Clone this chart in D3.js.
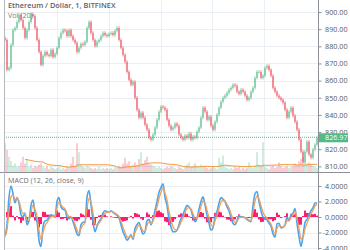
<!DOCTYPE html>
<html>
<head>
<meta charset="utf-8">
<script src="https://d3js.org/d3.v7.min.js"></script>
<style>
  html, body { margin: 0; padding: 0; background: #fff; }
  svg { display: block; font-family: "Open Sans", "DejaVu Sans", sans-serif; }
</style>
</head>
<body>
<div id="chart"></div>
<script>
////////////////////////////////////////////////////////////////////////////////
// Data (one sample every 2px)

var closes = [
  883.7, 866.3, 867.4, 880.8, 889.5, 890.7, 894.2, 898.3, 895.3, 890.7,
  884.9, 889.5, 894.2, 898.8, 897.7, 890.7, 883.7, 876.7, 869.2, 874.4,
  876.7, 875.0, 874.4, 877.9, 873.8, 875.6, 879.1, 884.9, 887.8, 889.5,
  889.0, 886.0, 889.5, 886.0, 883.7, 882.0, 876.7, 879.1, 881.4, 880.8,
  882.6, 890.7, 894.2, 887.8, 883.7, 880.2, 882.6, 883.7, 886.0, 887.8,
  886.6, 886.0, 887.2, 887.8, 886.6, 889.0, 890.7, 883.7, 879.1, 875.0,
  870.9, 865.1, 860.5, 857.6, 859.3, 850.0, 843.0, 838.4, 841.3, 838.4,
  834.3, 831.4, 826.7, 825.6, 828.5, 832.6, 837.2, 841.9, 844.8, 844.2,
  843.0, 837.2, 833.7, 831.4, 832.6, 834.9, 833.7, 828.5, 826.7, 825.6,
  827.9, 826.7, 829.1, 825.6, 827.3, 826.7, 830.2, 832.6, 838.4, 844.2,
  841.9, 837.2, 839.0, 833.7, 831.4, 836.0, 840.1, 844.2, 847.7, 850.0,
  851.2, 852.9, 854.7, 855.8, 857.6, 857.0, 853.5, 852.3, 854.7, 853.5,
  851.2, 848.8, 850.0, 853.5, 855.8, 861.6, 865.1, 865.1, 861.6, 862.8,
  867.4, 868.6, 866.3, 862.8, 855.8, 853.5, 851.2, 850.0, 848.8, 847.1,
  843.0, 838.4, 841.9, 844.2, 839.5, 836.0, 831.4, 825.6, 818.6, 812.8,
  818.6, 824.4, 816.9, 815.1, 819.8, 822.7, 826.97
];

var volumes = [
  26, 20, 14, 10, 6, 8, 5, 6, 9, 14,
  8, 12, 5, 7, 4, 6, 5, 7, 8, 5,
  4, 6, 3, 5, 4, 3, 4, 5, 3, 4,
  3, 5, 4, 8, 14, 6, 26, 18, 7, 5,
  4, 6, 5, 4, 3, 4, 3, 5, 3, 4,
  3, 4, 3, 4, 3, 5, 4, 6, 5, 8,
  13, 8, 10, 6, 7, 9, 6, 12, 18, 8,
  11, 14, 8, 7, 6, 5, 4, 5, 4, 3,
  4, 5, 4, 6, 5, 4, 3, 5, 4, 3,
  6, 7, 9, 5, 6, 8, 6, 5, 7, 6,
  5, 4, 3, 4, 5, 4, 3, 13, 9, 15,
  5, 4, 3, 4, 3, 5, 4, 5, 3, 4,
  3, 4, 9, 5, 4, 5, 18, 7, 6, 27,
  5, 4, 3, 5, 6, 4, 5, 9, 6, 4,
  5, 6, 4, 5, 6, 8, 7, 10, 12, 14,
  10, 8, 9, 7, 6, 5, 4
];

var macd_vals = [
  -2.5, -1.0, 2.5, 4.0, 3.0, 1.8, 2.5, 1.8, 0.3, 0.0,
  0.5, -1.0, -0.5, 1.5, 2.2, 0.5, -0.5, -3.0, -3.8, -1.3,
  -0.5, -0.4, 0.0, 0.3, 0.2, 0.0, 2.0, 2.5, 1.3, 1.0,
  0.9, 0.0, -0.2, 0.0, -0.6, -1.4, -2.2, -2.4, -1.0, -0.7,
  -0.6, 2.5, 3.4, 1.6, -0.5, -1.9, -1.2, -0.6, -0.2, 0.5,
  0.8, 0.7, 0.6, 0.8, 0.6, 0.4, 0.2, -0.1, -1.0, -1.9,
  -2.5, -3.0, -2.7, -2.3, -2.9, -1.5, -1.0, -0.7, -1.5, -2.2,
  -1.9, -0.5, -0.3, -1.0, -0.3, 0.8, 2.0, 3.2, 3.8, 4.3,
  2.5, 1.5, -0.3, -1.3, -1.9, -1.9, -1.7, -1.0, -0.2, 0.3,
  1.0, 1.5, 1.3, 0.9, 0.0, -0.6, -0.2, 1.0, 2.0, 2.6,
  1.6, 0.2, -0.8, -1.7, -1.4, 0.0, 0.7, 1.8, 2.5, 2.3,
  2.0, 1.3, 0.8, -0.1, -0.8, -1.0, -0.5, 0.2, 0.0, 0.0,
  -0.1, -0.3, -0.5, -0.6, 1.5, 3.0, 3.3, 2.0, 0.8, 0.0,
  -0.2, -0.4, -0.8, -1.2, -2.2, -2.6, -0.9, -0.8, -1.4, -1.3,
  -1.0, 0.0, -0.5, 0.3, 0.5, 1.1, -0.8, -2.5, -3.8, -2.5,
  -0.7, -0.3, 0.3, 0.8, 1.2, 1.8, 1.8
];

var price_ticks = [900, 890, 880, 870, 860, 850, 840, 830, 820, 810];
var macd_ticks = [4, 2, 0, -2, -4];
var title_text = "Ethereum / Dollar, 1, BITFINEX";
var vol_text = "Vol (20)";
var macd_text = "MACD (12, 26, close, 9)";
var footer_text = "ETHUSD chart by TradingView";

////////////////////////////////////////////////////////////////////////////////
// Setup

var width = 350, height = 250;
var plot_left = 4, plot_right = 318, sep_y = 172.5;
var up_col = "#53b987", down_col = "#eb4d5c";

var n = closes.length;
var candles = closes.map(function(c, i) {
  var o = i == 0 ? c + 1.2 : closes[i - 1];
  return { i: i, o: o, c: c, h: Math.max(o, c) + 1.0, l: Math.min(o, c) - 1.0, v: volumes[i] };
});

// volume moving average (20), drawn once a few bars are in the window
var vol_ma = volumes.map(function(v, i) {
  var s = volumes.slice(Math.max(0, i - 19), i + 1);
  return { i: i, v: d3.mean(s) };
}).filter(function(d) { return d.i >= 10; });

// signal line: EMA of macd (9 one-minute candles, a few samples here)
var alpha = 2 / (2.5 + 1), sig = [];
macd_vals.forEach(function(m, i) { sig.push(i == 0 ? m : sig[i - 1] + alpha * (m - sig[i - 1])); });
var hist = macd_vals.map(function(m, i) { return m - sig[i]; });

var scale_X = d3.scaleBand().domain(d3.range(n)).range([plot_left, plot_right]);
var bw = scale_X.bandwidth();
function cx(i) { return scale_X(i) + bw / 2; }

var scale_P = d3.scaleLinear().domain([810, 900]).range([166.4, 12]);
var scale_V = d3.scaleLinear().domain([0, 28]).range([sep_y, 141]);
var scale_M = d3.scaleLinear().domain([-4, 4]).range([248, 186]);

var svg = d3.select("#chart").append("svg")
  .attr("width", width).attr("height", height);

var defs = svg.append("defs");
defs.append("clipPath").attr("id", "clip_top")
  .append("rect").attr("x", plot_left).attr("y", 0).attr("width", plot_right - plot_left).attr("height", sep_y);
defs.append("clipPath").attr("id", "clip_bot")
  .append("rect").attr("x", plot_left).attr("y", sep_y + 0.5).attr("width", plot_right - plot_left).attr("height", height - sep_y);

////////////////////////////////////////////////////////////////////////////////
// Grid

var grid = svg.append("g").attr("class", "grid");
var vgrid_x = [57, 109, 161, 212, 264];
vgrid_x.forEach(function(x) {
  grid.append("line").attr("x1", x + 0.5).attr("x2", x + 0.5).attr("y1", 0).attr("y2", height)
    .style("stroke", "#e9eff4").style("stroke-width", 1);
});
price_ticks.forEach(function(t) {
  grid.append("line").attr("x1", plot_left).attr("x2", plot_right)
    .attr("y1", Math.round(scale_P(t)) + 0.5).attr("y2", Math.round(scale_P(t)) + 0.5)
    .style("stroke", "#e9eff4").style("stroke-width", 1);
});
macd_ticks.forEach(function(t) {
  grid.append("line").attr("x1", plot_left).attr("x2", plot_right)
    .attr("y1", Math.round(scale_M(t)) + 0.5).attr("y2", Math.round(scale_M(t)) + 0.5)
    .style("stroke", "#e9eff4").style("stroke-width", 1);
});

////////////////////////////////////////////////////////////////////////////////
// Price pane

var top_g = svg.append("g").attr("clip-path", "url(#clip_top)");

// volume
top_g.selectAll(".vol").data(candles).enter().append("rect").attr("class", "vol")
  .attr("x", function(d) { return scale_X(d.i) + 0.3; })
  .attr("width", bw - 0.6)
  .attr("y", function(d) { return scale_V(d.v); })
  .attr("height", function(d) { return sep_y - scale_V(d.v); })
  .style("fill", function(d) { return d.c >= d.o ? up_col : down_col; })
  .style("fill-opacity", 0.4);

top_g.append("path").datum(vol_ma)
  .attr("d", d3.line().x(function(d) { return cx(d.i); }).y(function(d) { return scale_V(d.v); }))
  .style("fill", "none").style("stroke", "#f39c3c").style("stroke-width", 1);

// last price dotted line
var last = closes[n - 1];
top_g.append("line").attr("x1", plot_left).attr("x2", plot_right)
  .attr("y1", scale_P(last)).attr("y2", scale_P(last))
  .style("stroke", up_col).style("stroke-width", 1).style("stroke-dasharray", "1,1");

// candles
var cg = top_g.selectAll(".candle").data(candles).enter().append("g").attr("class", "candle");
cg.append("line")
  .attr("x1", function(d) { return cx(d.i); }).attr("x2", function(d) { return cx(d.i); })
  .attr("y1", function(d) { return scale_P(d.h); }).attr("y2", function(d) { return scale_P(d.l); })
  .style("stroke", function(d) { return d.c >= d.o ? up_col : down_col; })
  .style("stroke-width", 0.6);
cg.append("rect")
  .attr("x", function(d) { return scale_X(d.i) + 0.4; })
  .attr("width", bw - 0.8)
  .attr("y", function(d) { return scale_P(Math.max(d.o, d.c)); })
  .attr("height", function(d) { return Math.max(0.8, Math.abs(scale_P(d.o) - scale_P(d.c))); })
  .style("fill", function(d) { return d.c >= d.o ? up_col : down_col; })
  .style("fill-opacity", 0.8);

////////////////////////////////////////////////////////////////////////////////
// MACD pane

var bot_g = svg.append("g").attr("clip-path", "url(#clip_bot)");

bot_g.selectAll(".hist").data(hist).enter().append("rect").attr("class", "hist")
  .attr("x", function(d, i) { return scale_X(i); })
  .attr("width", bw)
  .attr("y", function(d) { return Math.min(scale_M(d), scale_M(0)); })
  .attr("height", function(d) { return Math.abs(scale_M(d) - scale_M(0)); })
  .style("fill", "#ff1a72");

var line_m = d3.line().curve(d3.curveMonotoneX)
  .x(function(d, i) { return cx(i); }).y(function(d) { return scale_M(d); });

bot_g.append("path").datum(macd_vals).attr("d", line_m)
  .style("fill", "none").style("stroke", "#4ea4ea").style("stroke-width", 1.6);
bot_g.append("path").datum(sig).attr("d", line_m)
  .style("fill", "none").style("stroke", "#f0a05a").style("stroke-width", 1.3);

////////////////////////////////////////////////////////////////////////////////
// Frame and axes

svg.append("line").attr("x1", 0).attr("x2", width).attr("y1", sep_y).attr("y2", sep_y)
  .style("stroke", "#8d9096").style("stroke-width", 1);
svg.append("line").attr("x1", plot_left + 0.5).attr("x2", plot_left + 0.5).attr("y1", 0).attr("y2", height)
  .style("stroke", "#b5b8bd").style("stroke-width", 1);
svg.append("line").attr("x1", plot_right + 0.5).attr("x2", plot_right + 0.5).attr("y1", 0).attr("y2", height)
  .style("stroke", "#8d9096").style("stroke-width", 1);

var axis_P = d3.axisRight(scale_P).tickValues(price_ticks).tickSize(3)
  .tickFormat(function(d) { return d3.format(".2f")(d); });
var axis_M = d3.axisRight(scale_M).tickValues(macd_ticks).tickSize(3)
  .tickFormat(function(d) { return d3.format(".4f")(d).replace("\u2212", "-"); });

function style_axis(g) {
  g.select(".domain").remove();
  g.selectAll(".tick line").style("stroke", "#8d9096");
  g.selectAll(".tick text").attr("x", 29).attr("text-anchor", "end")
    .style("font-size", "7.2px").style("fill", "#555a60").style("font-family", "Open Sans, sans-serif");
}
svg.append("g").attr("transform", "translate(" + (plot_right + 0.5) + ",0)").call(axis_P).call(style_axis);
svg.append("g").attr("transform", "translate(" + (plot_right + 0.5) + ",0)").call(axis_M).call(style_axis);

// last price label
var ly = scale_P(last);
svg.append("rect").attr("x", plot_right + 1).attr("y", ly - 4).attr("width", 29).attr("height", 9)
  .style("fill", up_col);
svg.append("text").attr("x", plot_right + 29.5).attr("y", ly + 3).attr("text-anchor", "end")
  .style("font-size", "7.2px").style("fill", "#fff").text(d3.format(".2f")(last));

////////////////////////////////////////////////////////////////////////////////
// Legends

svg.append("text").attr("x", 8).attr("y", 8).style("font-size", "7.4px").style("font-weight", 600)
  .style("fill", "#5d6066").text(title_text);
svg.append("text").attr("x", 8).attr("y", 17.5).style("font-size", "7.2px")
  .style("fill", "#7a7d82").text(vol_text);
svg.append("text").attr("x", 8).attr("y", 183).style("font-size", "7.2px")
  .style("fill", "#6d7075").text(macd_text);
svg.append("text").attr("x", 12).attr("y", 255).style("font-size", "8px")
  .style("fill", "#9cc8ee").style("fill-opacity", 0.8).text(footer_text);
</script>
</body>
</html>
